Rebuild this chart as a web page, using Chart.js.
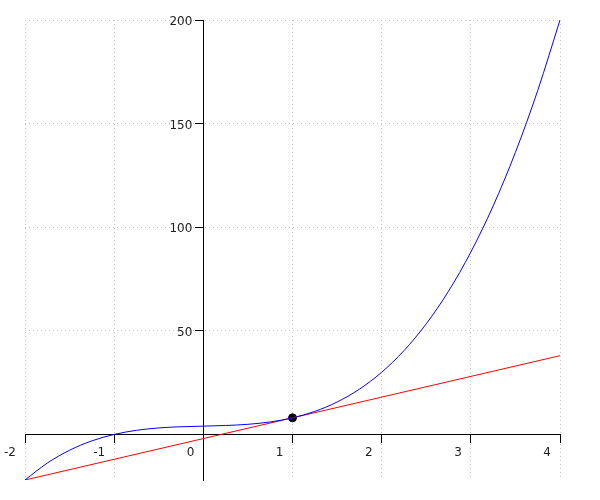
<!DOCTYPE html>
<html>
<head>
<meta charset="utf-8">
<title>Cubic and tangent</title>
<script src="https://cdn.jsdelivr.net/npm/chart.js@4.4.1/dist/chart.umd.min.js"></script>
<style>
  html, body { margin: 0; padding: 0; background: #fff; }
  #wrap { width: 600px; height: 500px; position: relative; }
</style>
</head>
<body>
<div id="wrap"><canvas id="plot"></canvas></div>
<script>
// ----------------- Data -----------------
const curveX = [-2, -1.75, -1.5, -1.25, -1, -0.75, -0.5, -0.25, 0, 0.25, 0.5, 0.75, 1,
  1.25, 1.5, 1.75, 2, 2.25, 2.5, 2.75, 3, 3.25, 3.5, 3.75, 4];
const curveY = [-22, -13.83, -7.63, -3.11, 0, 1.98, 3.13, 3.7, 4, 4.3, 4.88, 6.02, 8,
  11.11, 15.63, 21.83, 30, 40.42, 53.38, 69.14, 88, 110.23, 136.13, 165.95, 200];
const tangentX = [-2, 4];
const tangentY = [-22, 38];
const touchPoint = { x: 1, y: 8 };
const xTicks = [-2, -1, 0, 1, 2, 3, 4];
const yTicks = [0, 50, 100, 150, 200];

const toPoints = (xs, ys) => xs.map((x, i) => ({ x: x, y: ys[i] }));

// y labels on an axis placed at x=0 get no padding from Chart.js,
// so push them left of the tick marks before drawing
const yLabelShift = {
  id: "yLabelShift",
  beforeDraw(chart) {
    const items = chart.scales.y.getLabelItems(chart.chartArea);
    if (items._shifted) return;
    items.forEach(it => { it.options.translation[0] -= 11; });
    items._shifted = true;
  }
};

// ----------------- Chart -----------------
Chart.defaults.font.family = "'DejaVu Sans', sans-serif";
Chart.defaults.font.size = 12;
Chart.defaults.color = "#222";

const axisCommon = {
  type: "linear",
  grid: { color: "#c4c4c4", lineWidth: 1, tickColor: "#000", tickLength: 8 },
  border: { color: "#000", width: 1, dash: [1, 3] }
};

new Chart(document.getElementById("plot"), {
  type: "line",
  data: {
    datasets: [
      {
        data: toPoints(curveX, curveY),
        borderColor: "#0000ff",
        borderWidth: 1,
        pointRadius: 0,
        cubicInterpolationMode: "monotone"
      },
      {
        data: toPoints(tangentX, tangentY),
        borderColor: "#ff0000",
        borderWidth: 1,
        pointRadius: 0
      },
      {
        data: [touchPoint],
        showLine: false,
        pointRadius: 4,
        pointBackgroundColor: "#000",
        pointBorderColor: "#000"
      }
    ]
  },
  options: {
    responsive: true,
    maintainAspectRatio: false,
    animation: false,
    layout: { padding: { left: 25, right: 40, top: 20, bottom: 20 } },
    plugins: { legend: { display: false }, tooltip: { enabled: false } },
    scales: {
      x: {
        ...axisCommon,
        position: { y: 0 },
        min: -2,
        max: 4,
        afterBuildTicks: s => { s.ticks = xTicks.map(v => ({ value: v })); },
        afterFit: s => { s.height = 0; },
        ticks: { align: "end", labelOffset: -9, padding: 3, maxRotation: 0 }
      },
      y: {
        ...axisCommon,
        position: { x: 0 },
        min: -22,
        max: 200,
        afterBuildTicks: s => { s.ticks = yTicks.map(v => ({ value: v })); },
        afterFit: s => { s.width = 0; },
        ticks: { labelOffset: 2, callback: v => (v === 0 ? "" : v) }
      }
    }
  },
  plugins: [yLabelShift]
});
</script>
</body>
</html>
